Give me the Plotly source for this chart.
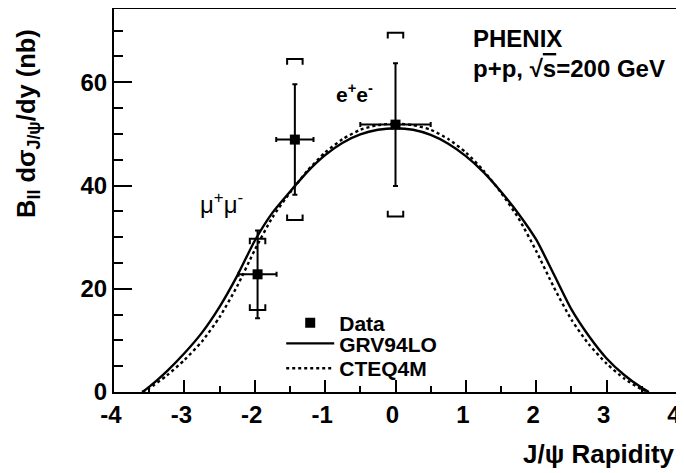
import plotly.graph_objects as go

# ---- data ----
rap = [-1.96, -1.43, 0.0]
dsig = [22.8, 48.9, 51.8]
stat_err = [8.5, 10.7, 11.9]
sys_err = [6.9, 15.6, 17.8]
rap_halfwidth = [0.27, 0.265, 0.5]

curve_x = [-3.6, -3.5, -3.25, -3.0, -2.75, -2.5, -2.25, -2.0, -1.75, -1.5, -1.25, -1.0, -0.75, -0.5, -0.25,
           0.0, 0.25, 0.5, 0.75, 1.0, 1.25, 1.5, 1.75, 2.0, 2.25, 2.5, 2.75, 3.0, 3.25, 3.5, 3.6]
grv94lo = [0.0, 1.0, 4.0, 7.5, 11.5, 16.5, 22.5, 29.3, 34.7, 38.8, 42.7, 45.9, 48.3, 49.9, 50.8,
           51.1, 50.8, 49.8, 48.1, 45.7, 42.6, 38.8, 34.5, 29.5, 22.8, 16.0, 10.8, 6.5, 3.3, 0.8, 0.0]
cteq4m = [0.0, 0.7, 3.2, 6.2, 9.8, 14.5, 20.5, 27.5, 33.8, 38.6, 42.9, 46.4, 49.0, 50.8, 51.7,
          52.0, 51.7, 50.8, 49.0, 46.4, 42.9, 38.6, 33.6, 27.3, 20.3, 14.0, 9.2, 5.5, 2.6, 0.5, 0.0]

x_ticks = [-4, -3, -2, -1, 0, 1, 2, 3, 4]
x_ticklabels = ["-4", "-3", "-2", "-1", "0", "1", "2", "3", "4"]
y_ticks = [0, 20, 40, 60]
y_ticklabels = ["0", "20", "40", "60"]

FONT = "Liberation Sans"

# systematic brackets built from the data arrays
bw = 0.11   # half width of bracket (x units)
leg = 1.1   # bracket leg length (y units)
bx, by = [], []
for x, y, s in zip(rap, dsig, sys_err):
    top = y + s
    bot = y - s
    bx += [x - bw, x - bw, x + bw, x + bw, None]
    by += [top - leg, top, top, top - leg, None]
    bx += [x - bw, x - bw, x + bw, x + bw, None]
    by += [bot + leg, bot, bot, bot + leg, None]

fig = go.Figure()

fig.add_trace(go.Scatter(
    x=rap, y=dsig, mode="markers", name="Data", legend="legend",
    marker=dict(symbol="square", size=10, color="black"),
    error_y=dict(type="data", array=stat_err, color="black", thickness=2, width=2.5),
    error_x=dict(type="data", array=rap_halfwidth, color="black", thickness=2, width=2.5),
))
fig.add_trace(go.Scatter(
    x=curve_x, y=grv94lo, mode="lines", name="GRV94LO", legend="legend2",
    line=dict(color="black", width=2.4, shape="spline", smoothing=0.6),
))
fig.add_trace(go.Scatter(
    x=curve_x, y=cteq4m, mode="lines", name="CTEQ4M", legend="legend3",
    line=dict(color="black", width=2.4, dash="dot", shape="spline", smoothing=0.6),
))
fig.add_trace(go.Scatter(
    x=bx, y=by, mode="lines", showlegend=False, hoverinfo="skip",
    line=dict(color="black", width=2),
))

ann_font = dict(family=FONT, size=24, color="black", weight="bold")
fig.add_annotation(x=1.07, y=68.4, xref="x", yref="y", text="PHENIX", showarrow=False,
                   xanchor="left", yanchor="middle", font=ann_font)
fig.add_annotation(x=1.07, y=62.6, xref="x", yref="y",
                   text="p+p, \u221a<span style='text-decoration:overline'>s</span>=200 GeV",
                   showarrow=False, xanchor="left", yanchor="middle", font=ann_font)
fig.add_annotation(x=-0.58, y=57.9, xref="x", yref="y", text="e<sup>+</sup>e<sup>-</sup>",
                   showarrow=False, font=dict(family=FONT, size=21, color="black", weight="bold"))
fig.add_annotation(x=-2.47, y=36.6, xref="x", yref="y", text="\u03bc<sup>+</sup>\u03bc<sup>-</sup>",
                   showarrow=False, font=dict(family=FONT, size=24, color="black"))

# axis titles
fig.add_annotation(x=-0.153, y=0.954, xref="paper", yref="paper",
                   text="B<sub>ll</sub> d\u03c3<sub>J/\u03c8</sub>/dy (nb)",
                   textangle=-90, showarrow=False, xanchor="center", yanchor="top",
                   font=dict(family=FONT, size=25.5, color="black", weight="bold"))
fig.add_annotation(x=1.0, y=-0.205, xref="paper", yref="paper", text="J/\u03c8 Rapidity",
                   showarrow=False, xanchor="right", yanchor="bottom",
                   font=dict(family=FONT, size=26, color="black", weight="bold"))

leg_font = dict(family=FONT, size=21, color="black", weight="bold")
leg_common = dict(xanchor="left", yanchor="middle", bgcolor="rgba(0,0,0,0)",
                  itemwidth=48, font=leg_font)

# page body has an 8px margin, so the figure is sized/offset to land on the 684x473 window
fig.update_layout(
    width=676, height=465,
    margin=dict(l=106, r=6.5, t=1, b=80.7),
    paper_bgcolor="white", plot_bgcolor="white",
    showlegend=True,
    legend=dict(x=0.297, y=0.180, **leg_common),
    legend2=dict(x=0.297, y=0.126, **leg_common),
    legend3=dict(x=0.297, y=0.061, **leg_common),
    xaxis=dict(range=[-4, 4], tickmode="array", tickvals=x_ticks, ticktext=x_ticklabels,
               ticks="inside", ticklen=12, tickwidth=2, tickcolor="black",
               minor=dict(dtick=0.5, tick0=0, ticks="inside", ticklen=6, tickwidth=2, tickcolor="black"),
               showline=True, linecolor="black", linewidth=2, mirror=True,
               showgrid=False, zeroline=False, automargin=False, ticklabeloverflow="allow",
               ticklabelshift=-3,
               tickfont=dict(family=FONT, size=24, color="black", weight="bold")),
    yaxis=dict(range=[0, 74.2], tickmode="array", tickvals=y_ticks, ticktext=y_ticklabels,
               ticks="inside", ticklen=18, tickwidth=2, tickcolor="black",
               minor=dict(dtick=5, tick0=0, ticks="inside", ticklen=9, tickwidth=2, tickcolor="black"),
               showline=True, linecolor="black", linewidth=2, mirror=True,
               showgrid=False, zeroline=False, automargin=False, ticklabeloverflow="allow",
               tickfont=dict(family=FONT, size=24, color="black", weight="bold")),
)

fig.write_html("out.html")
